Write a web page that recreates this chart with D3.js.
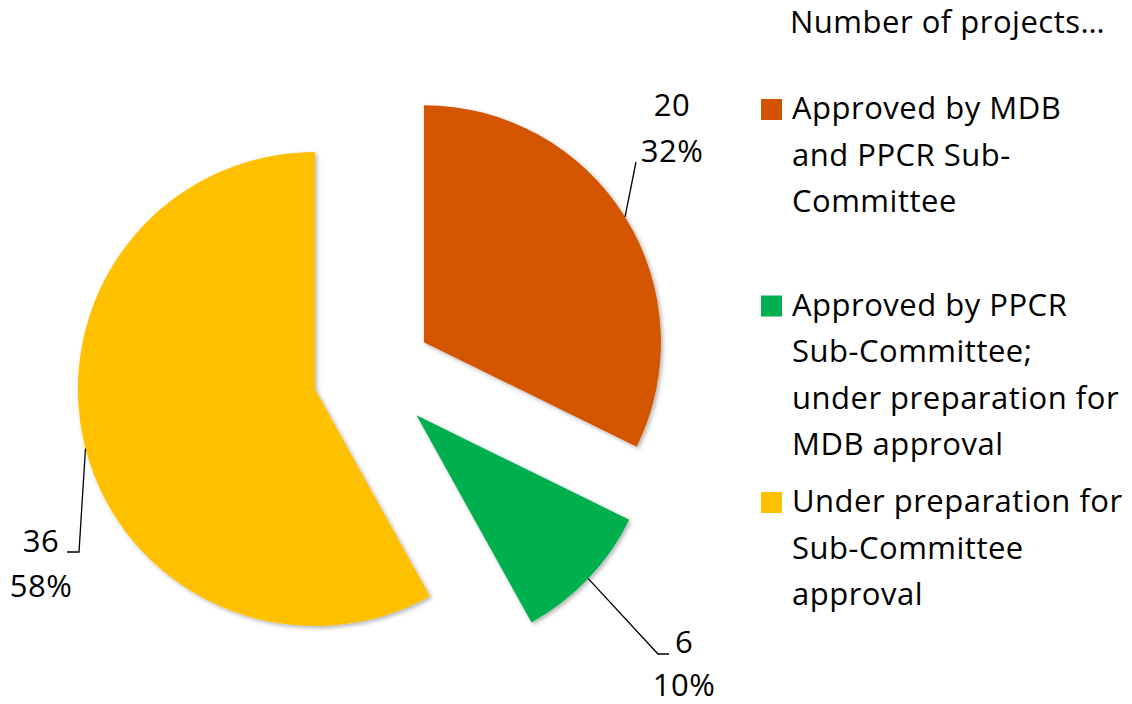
<!DOCTYPE html>
<html>
<head>
<meta charset="utf-8">
<script src="https://cdn.jsdelivr.net/npm/d3@7"></script>
<style>
  html, body { margin: 0; padding: 0; background: #fff; }
  svg { display: block; font-family: "Open Sans", "Noto Sans", sans-serif; }
</style>
</head>
<body>
<div id="chart"></div>
<script>
// Chart data
const categories = [
  'Approved by MDB and PPCR Sub-Committee',
  'Approved by PPCR Sub-Committee; under preparation for MDB approval',
  'Under preparation for Sub-Committee approval'
];
const counts = [20, 6, 36];
const legendLines = [
  ['Approved by MDB', 'and PPCR Sub-', 'Committee'],
  ['Approved by PPCR', 'Sub-Committee;', 'under preparation for', 'MDB approval'],
  ['Under preparation for', 'Sub-Committee', 'approval']
];
const colors = ['#D35400', '#00B050', '#FFC000'];
const legendTitle = 'Number of projects…';

// Layout
const width = 1132, height = 704;
const center = { x: 373, y: 374 };
const radius = 237;
const explode = 60;
const fontSize = 31;
const spacing = 0.5;

// leader line end points (label anchors), one per slice
const leaderEnds = [
  [[636, 162]],
  [[658, 654], [669, 654]],
  [[79, 552], [67, 552]]
];
const labelPos = [
  { x: 672, y1: 116, y2: 162 },
  { x: 684, y1: 653, y2: 696 },
  { x: 41, y1: 552, y2: 597 }
];

const svg = d3.select('#chart')
  .append('svg')
    .attr('width', width)
    .attr('height', height);

// soft drop shadow like the original
const defs = svg.append('defs');
const shadow = defs.append('filter')
  .attr('id', 'shadow')
  .attr('x', '-10%').attr('y', '-10%')
  .attr('width', '130%').attr('height', '130%');
shadow.append('feDropShadow')
  .attr('dx', 2).attr('dy', 2)
  .attr('stdDeviation', 2)
  .attr('flood-color', '#000')
  .attr('flood-opacity', 0.3);

const pie = d3.pie().sort(null).value(d => d);
const arcs = pie(counts);
const total = d3.sum(counts);
const pct = d3.format('.0%');

const arc = d3.arc().innerRadius(0).outerRadius(radius);

// offset of each slice along its mid angle
const offset = function(d){
  const mid = (d.startAngle + d.endAngle) / 2;
  return [Math.sin(mid) * explode, -Math.cos(mid) * explode];
};

const slices = svg.append('g')
  .attr('transform', `translate(${center.x},${center.y})`);

slices.selectAll('path')
  .data(arcs)
  .join('path')
    .attr('d', arc)
    .attr('fill', (d, i) => colors[i])
    .attr('filter', 'url(#shadow)')
    .attr('transform', d => `translate(${offset(d)[0]},${offset(d)[1]})`);

// Leader lines: start at arc mid point of each exploded slice
const line = d3.line();
arcs.forEach((d, i) => {
  const mid = (d.startAngle + d.endAngle) / 2;
  const o = offset(d);
  const start = [
    center.x + o[0] + Math.sin(mid) * radius,
    center.y + o[1] - Math.cos(mid) * radius
  ];
  svg.append('path')
    .attr('d', line([start].concat(leaderEnds[i])))
    .attr('fill', 'none')
    .attr('stroke', '#000')
    .attr('stroke-width', 1.3);

  const lbl = svg.append('text')
    .attr('text-anchor', 'middle')
    .attr('font-size', fontSize)
    .attr('letter-spacing', spacing)
    .attr('fill', '#000');
  lbl.append('tspan')
    .attr('x', labelPos[i].x)
    .attr('y', labelPos[i].y1)
    .text(d.data);
  lbl.append('tspan')
    .attr('x', labelPos[i].x)
    .attr('y', labelPos[i].y2)
    .text(pct(d.data / total));
});

// Legend
const legend = svg.append('g');
legend.append('text')
  .attr('x', 790)
  .attr('y', 33)
  .attr('font-size', fontSize)
  .attr('letter-spacing', spacing)
  .text(legendTitle);

const itemY = d3.scalePoint()
  .domain(categories)
  .range([119, 512]);
const lineStep = 46.5;

categories.forEach((c, i) => {
  const y = itemY(c);
  legend.append('rect')
    .attr('x', 761)
    .attr('y', y - 20)
    .attr('width', 21)
    .attr('height', 21)
    .attr('fill', colors[i]);
  const t = legend.append('text')
    .attr('font-size', fontSize)
    .attr('letter-spacing', spacing)
    .attr('fill', '#000');
  legendLines[i].forEach((ln, j) => {
    t.append('tspan')
      .attr('x', 792)
      .attr('y', y + j * lineStep)
      .text(ln);
  });
});
</script>
</body>
</html>
